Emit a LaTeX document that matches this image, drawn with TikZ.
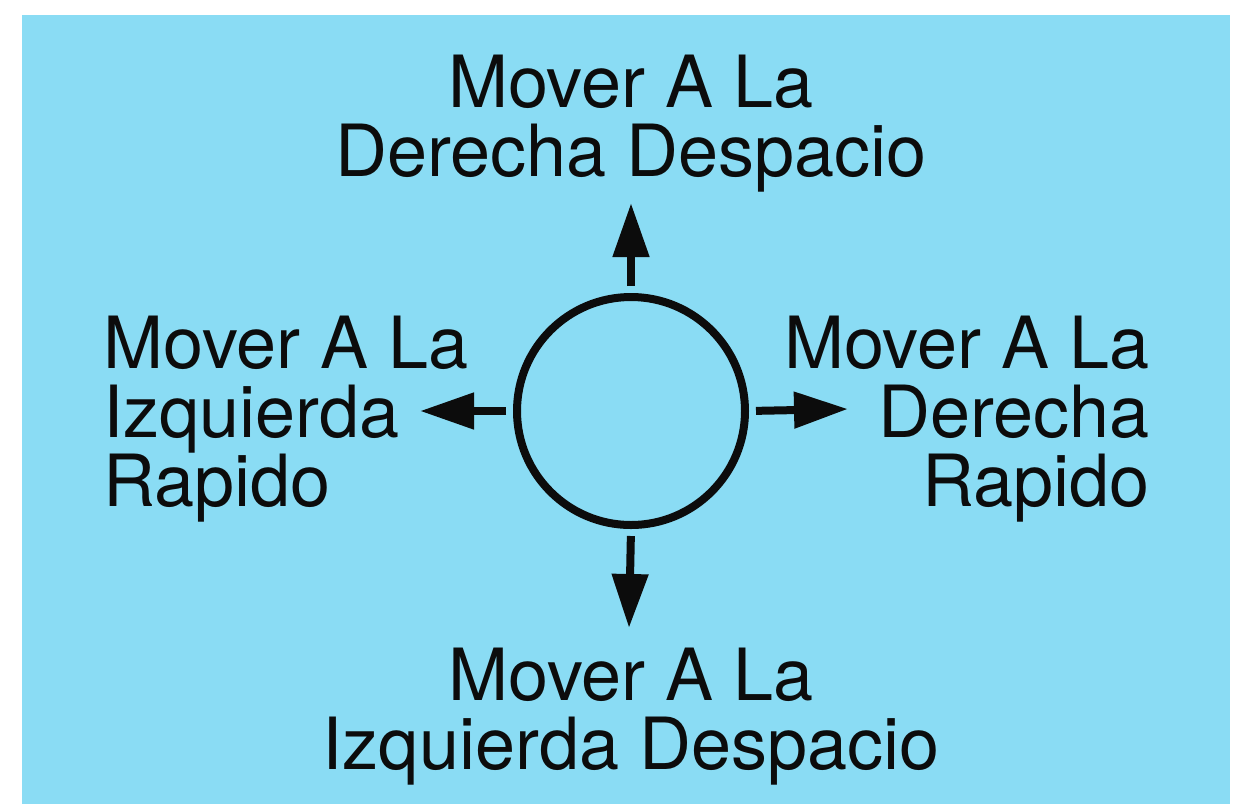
\documentclass[tikz,border=0pt]{standalone}
\usepackage{fontspec}
\setmainfont{TeX Gyre Heros}
\usetikzlibrary{positioning, arrows.meta}
\definecolor{sky}{HTML}{8ADCF4}
\definecolor{ink}{HTML}{0C0C0C}

\begin{document}
\begin{tikzpicture}[x=0.5pt, y=-0.5pt,
    lbl/.style={inner sep=0pt, text=ink, font=\fontsize{36pt}{34.5pt}\selectfont},
    arr/.style={-{Triangle[length=27pt, width=17.5pt]}, line width=4pt, ink, shorten <=3.5pt}]
  % page and blue card
  \useasboundingbox (0,0) rectangle (1236,804);
  \fill[white] (0,0) rectangle (1236,804);
  \fill[sky] (22,15) rectangle (1230,804);
  % the dial
  \node[circle, draw=ink, line width=4pt, minimum size=114pt, inner sep=0pt] (dial) at (631,411) {};
  % labels
  \node[lbl, align=center, anchor=north] (up) at (631,55) {Mover A La\\Derecha Despacio};
  \node[lbl, align=left, anchor=north west] (lft) at (103,316) {Mover A La\\Izquierda\\Rapido};
  \node[lbl, align=right, anchor=north east] (rgt) at (1150,316) {Mover A La\\Derecha\\Rapido};
  \node[lbl, align=center, anchor=north] (dn) at (631,648) {Mover A La\\Izquierda Despacio};
  % arrow tips
  \coordinate (upTip) at (631,203);
  \coordinate (dnTip) at (629,628);
  \coordinate (lftTip) at (420,411);
  \coordinate (rgtTip) at (848,409);
  \draw[arr] (dial.north) -- (upTip);
  \draw[arr] (dial.south) -- (dnTip);
  \draw[arr] (dial.west) -- (lftTip);
  \draw[arr] (dial.east) -- (rgtTip);
\end{tikzpicture}
\end{document}
